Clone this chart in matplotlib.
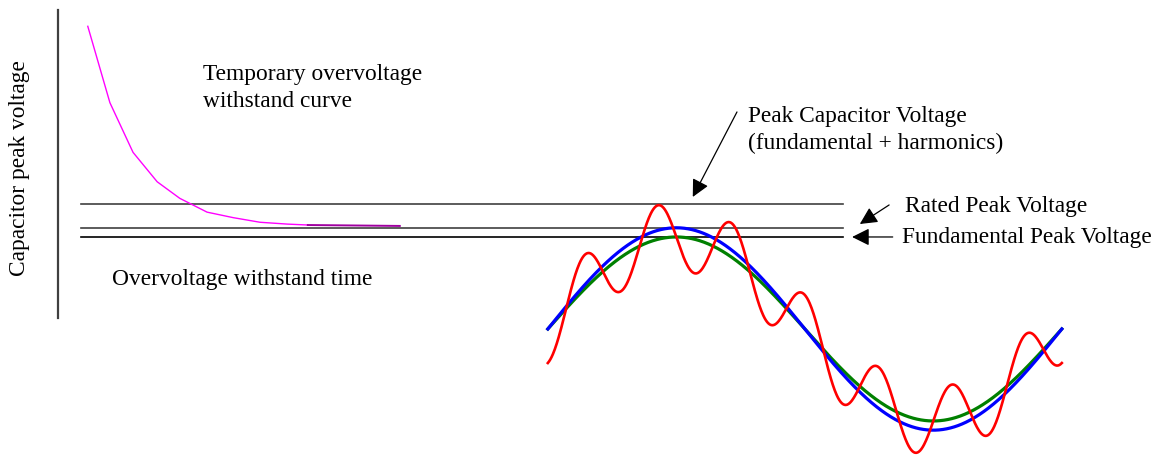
import numpy as np
import matplotlib
matplotlib.use("Agg")
import matplotlib.pyplot as plt

plt.rcParams['font.family'] = ['Liberation Serif', 'DejaVu Serif']

################################################################################
# data: voltages in per-unit of fundamental peak, time in fundamental cycles
# temporary overvoltage withstand curve
withstand_t = [0.057, 0.100, 0.145, 0.192, 0.236, 0.289, 0.340, 0.392, 0.445, 0.485]
withstand_v = [3.29, 2.46, 1.92, 1.60, 1.42, 1.27, 1.21, 1.16, 1.14, 1.13]
withstand_tail_t = [0.485, 0.664]
withstand_tail_v = [1.13, 1.12]

# reference voltage levels
level_names = ["Peak Capacitor Voltage", "Rated Peak Voltage", "Fundamental Peak Voltage"]
level_values = [1.36, 1.10, 1.00]
level_colors = ["#404040", "#404040", "#000000"]
level_span = [0.044, 1.526]

# waveform components
wave_start = 0.952          # cycles
fundamental_amp = 1.00
rated_amp = 1.10
harmonic_orders = [1, 7]
harmonic_amps = [1.00, 0.37]
harmonic_phases = [0.0, -np.pi / 2]

################################################################################
fig = plt.figure(figsize=(11.62, 4.55), dpi=100)
ax = fig.add_axes([0, 0, 1, 1])
ax.set_xlim(-0.1138, 2.1469)
ax.set_ylim(-1.37, 3.576)
ax.axis("off")

# vertical axis
ax.plot([0, 0], [0.12, 3.47], color="#404040", lw=1.6)

# horizontal level lines
for val, col in zip(level_values, level_colors):
    ax.plot(level_span, [val, val], color=col, lw=1.2)

# withstand curve
ax.plot(withstand_t, withstand_v, color="#ff00ff", lw=1.0)
ax.plot(withstand_tail_t, withstand_tail_v, color="#a000a0", lw=1.4)

# waves
theta = np.linspace(0, 2 * np.pi, 800)
t = wave_start + theta / (2 * np.pi)
green = fundamental_amp * np.sin(theta)
blue = rated_amp * np.sin(theta)
red = np.zeros_like(theta)
for n, a, ph in zip(harmonic_orders, harmonic_amps, harmonic_phases):
    red += a * np.sin(n * theta + ph)
ax.plot(t, green, color="#008000", lw=2.3)
ax.plot(t, blue, color="#0000ff", lw=2.3)
ax.plot(t, red, color="#ff0000", lw=1.9)

################################################################################
# text
fs = 16.8
ax.text(-0.075, 1.75, "Capacitor peak voltage", rotation=90, fontsize=fs,
        ha="center", va="center")
ax.text(0.281, 2.62, "Temporary overvoltage\nwithstand curve", fontsize=fs,
        ha="left", va="center", linespacing=1.32)
ax.text(0.104, 0.54, "Overvoltage withstand time", fontsize=fs,
        ha="left", va="center")
ax.text(1.341, 2.16, "Peak Capacitor Voltage\n(fundamental + harmonics)",
        fontsize=fs, ha="left", va="center", linespacing=1.38)
ax.text(1.647, 1.33, "Rated Peak Voltage", fontsize=fs, ha="left", va="center")
ax.text(1.641, 0.99, "Fundamental Peak Voltage", fontsize=fs, ha="left",
        va="center")

arrow = dict(arrowstyle="-|>,head_length=0.7,head_width=0.35", color="black",
             lw=0.9, mutation_scale=15, shrinkA=0, shrinkB=0)
ax.annotate("", xy=(1.234, 1.435), xytext=(1.320, 2.359), arrowprops=arrow)
ax.annotate("", xy=(1.559, 1.141), xytext=(1.616, 1.348), arrowprops=arrow)
ax.annotate("", xy=(1.544, 1.0), xytext=(1.623, 1.0), arrowprops=arrow)

fig.savefig("out.png", dpi=100, facecolor="white")
